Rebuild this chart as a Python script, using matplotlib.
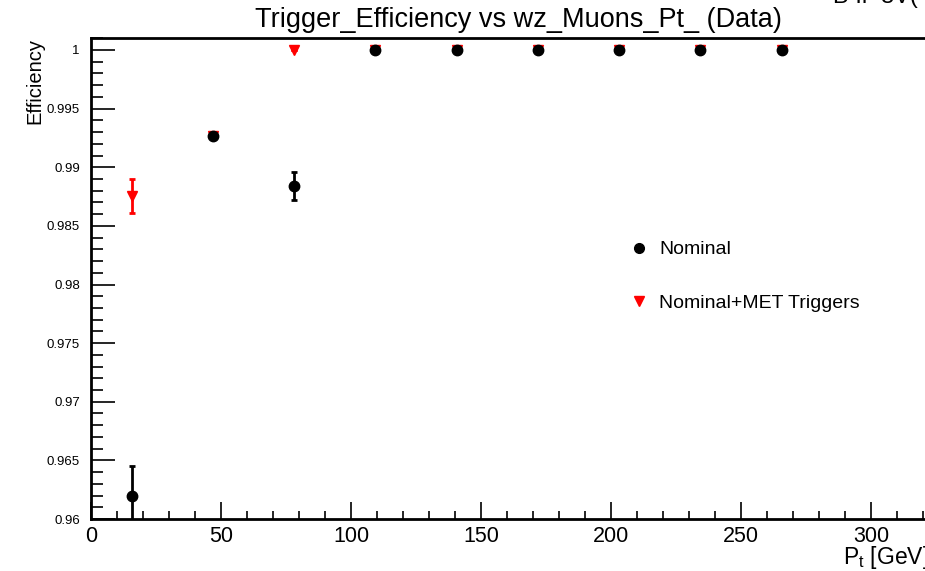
import matplotlib
matplotlib.use("Agg")
import matplotlib.pyplot as plt
from matplotlib.lines import Line2D
from matplotlib.ticker import MultipleLocator, FixedFormatter, FixedLocator

plt.rcParams['font.family'] = ['Liberation Sans', 'DejaVu Sans']

# Data
pt_centers = [15.6, 46.9, 78.1, 109.4, 140.6, 171.9, 203.1, 234.4, 265.6]
nominal_eff = [0.9620, 0.99265, 0.9884, 1.0, 1.0, 1.0, 1.0, 1.0, 1.0]
nominal_err = [0.0025, 0.0001, 0.0012, 0.0, 0.0, 0.0, 0.0, 0.0, 0.0]
met_eff = [0.98755, 0.99270, 1.0, 1.0, 1.0, 1.0, 1.0, 1.0, 1.0]
met_err = [0.00145, 0.0001, 0.0, 0.0, 0.0, 0.0, 0.0, 0.0, 0.0]
y_ticks = [0.96, 0.965, 0.97, 0.975, 0.98, 0.985, 0.99, 0.995, 1.0]
y_tick_labels = ["0.96", "0.965", "0.97", "0.975", "0.98", "0.985", "0.99", "0.995", "1"]
x_ticks = [0, 50, 100, 150, 200, 250, 300]

fig = plt.figure(figsize=(9.25, 5.71), dpi=100)
ax = fig.add_axes([91/925, 52/571, 1 - 91/925, (519-38)/571])
ax.set_xlim(0, (925-91)/2.6)
ax.set_ylim(0.96, 0.96 + (519-38)/11725)

ax.errorbar(pt_centers, met_eff, yerr=met_err, fmt='v', color='#ff0000',
            markersize=7.5, elinewidth=2, capsize=2.5, capthick=2, zorder=2)
ax.errorbar(pt_centers, nominal_eff, yerr=nominal_err, fmt='o', color='black',
            markersize=7.5, elinewidth=2, capsize=2.5, capthick=2, zorder=3)

for s in ['left', 'bottom', 'top']:
    ax.spines[s].set_linewidth(2)
ax.spines['right'].set_visible(False)

ax.yaxis.set_major_locator(FixedLocator(y_ticks))
ax.yaxis.set_major_formatter(FixedFormatter(y_tick_labels))
ax.yaxis.set_minor_locator(MultipleLocator(0.001))
ax.xaxis.set_major_locator(FixedLocator(x_ticks))
ax.xaxis.set_minor_locator(MultipleLocator(10))
ax.tick_params(axis='y', which='major', direction='in', length=17, width=1.2, labelsize=9.5, pad=8)
ax.tick_params(axis='y', which='minor', direction='in', length=8.5, width=1.2)
ax.tick_params(axis='x', which='major', direction='in', length=12, width=1.2, labelsize=15.5, pad=5)
ax.tick_params(axis='x', which='minor', direction='in', length=6, width=1.2)

handles = [Line2D([], [], marker='o', color='black', linestyle='none', markersize=7),
           Line2D([], [], marker='v', color='#ff0000', linestyle='none', markersize=7)]
labels = ['Nominal', 'Nominal+MET Triggers']
leg = ax.legend(handles, labels, loc='upper left', bbox_to_anchor=((625-91)/834, (519-233)/481),
                frameon=False, fontsize=14, handlelength=0.6, handletextpad=0.75, labelspacing=1.85,
                borderaxespad=0)

fig.text(518/925, 1 - 20/571, "Trigger_Efficiency vs wz_Muons_Pt_ (Data)", ha='center', va='center', fontsize=19.5)
fig.text(35/925, 1 - 38/571, "Efficiency", rotation=90, ha='center', va='top', fontsize=14.5)
fig.text(843/925, 1 - 564/571, r"P$_{\mathregular{t}}$ [GeV]", ha='left', va='baseline', fontsize=16.5)
fig.text(832/925, 1 + 3/571, "B-Il=8V(", ha='left', va='center', fontsize=17)

fig.savefig("out.png", dpi=100)
